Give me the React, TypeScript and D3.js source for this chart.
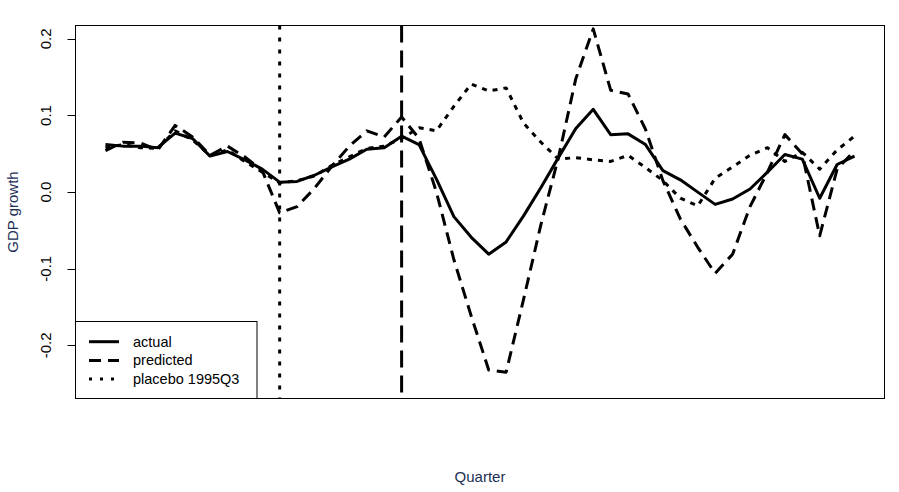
import React from "react";
import * as d3 from "d3";

const quarters: number[] = d3.range(0, 44);
const actual: number[] = [0.062, 0.060, 0.060, 0.058, 0.077, 0.070, 0.047, 0.053, 0.042, 0.030, 0.013, 0.014, 0.022, 0.033, 0.043, 0.056, 0.058, 0.073, 0.062, 0.017, -0.032, -0.059, -0.081, -0.065, -0.031, 0.006, 0.045, 0.083, 0.108, 0.075, 0.076, 0.062, 0.028, 0.016, 0.000, -0.016, -0.009, 0.004, 0.026, 0.049, 0.043, -0.008, 0.036, 0.047];
const predicted: number[] = [0.054, 0.065, 0.064, 0.055, 0.087, 0.072, 0.048, 0.060, 0.046, 0.028, -0.027, -0.019, 0.005, 0.034, 0.060, 0.080, 0.072, 0.098, 0.070, 0.000, -0.088, -0.162, -0.232, -0.235, -0.140, -0.042, 0.045, 0.148, 0.213, 0.133, 0.128, 0.082, 0.015, -0.035, -0.072, -0.106, -0.081, -0.019, 0.026, 0.075, 0.050, -0.057, 0.030, 0.054];
const placebo: number[] = [0.058, 0.062, 0.058, 0.057, 0.080, 0.068, 0.048, 0.055, 0.040, 0.026, 0.012, 0.015, 0.021, 0.035, 0.046, 0.057, 0.060, 0.070, 0.084, 0.080, 0.112, 0.141, 0.132, 0.136, 0.090, 0.065, 0.043, 0.045, 0.042, 0.040, 0.048, 0.032, 0.015, -0.008, -0.018, 0.018, 0.033, 0.048, 0.058, 0.040, 0.052, 0.030, 0.055, 0.073];
const yTicks: number[] = [-0.2, -0.1, 0.0, 0.1, 0.2];
const placeboQuarter = 10;
const treatQuarter = 17;
const legendLabels: string[] = ["actual", "predicted", "placebo 1995Q3"];

const W = 899, H = 492;
const left = 75.5, right = 884.5, top = 25.5, bottom = 398.5;
const FONT = "'Liberation Sans', Arial, sans-serif";

export default function App() {
  const x = d3.scaleLinear().domain([-1.72, 44.72]).range([left, right]);
  const y = d3.scaleLinear().domain([-0.2693, 0.2174]).range([bottom, top]);
  const line = d3.line<number>().x((_, i) => x(quarters[i])).y((d) => y(d));

  const curveDash = [undefined, "12 7", "5 6"] as (string | undefined)[];
  const legendDash = [undefined, "12 7", "3 8"] as (string | undefined)[];
  const series = [actual, predicted, placebo];

  const legX = left, legY = 321.5, legW = 181.5, legH = bottom - 321.5;

  return (
    <svg width={W} height={H} style={{ position: "absolute", left: 0, top: 0, background: "#fff" }} fontFamily={FONT}>
      <rect x={0} y={0} width={W} height={H} fill="#fff" />
      <defs>
        <clipPath id="plotclip">
          <rect x={left} y={top} width={right - left} height={bottom - top} />
        </clipPath>
      </defs>
      <g clipPath="url(#plotclip)">
        {series.map((s, i) => (
          <path key={i} d={line(s) || ""} fill="none" stroke="#000" strokeWidth={3}
            strokeDasharray={curveDash[i]} strokeLinejoin="round" strokeLinecap="butt" />
        ))}
        <line x1={x(placeboQuarter)} x2={x(placeboQuarter)} y1={top} y2={bottom} stroke="#000" strokeWidth={3} strokeDasharray="4 8" />
        <line x1={x(treatQuarter)} x2={x(treatQuarter)} y1={top} y2={bottom} stroke="#000" strokeWidth={3} strokeDasharray="17 8" />
      </g>
      <rect x={left} y={top} width={right - left} height={bottom - top} fill="none" stroke="#000" strokeWidth={1} />
      {yTicks.map((t) => (
        <g key={t}>
          <line x1={left - 8} x2={left} y1={Math.round(y(t)) + 0.5} y2={Math.round(y(t)) + 0.5} stroke="#000" strokeWidth={1} />
          <text transform={`translate(51,${y(t)}) rotate(-90)`} textAnchor="middle" fontSize={15} fill="#000">
            {t === 0 ? "0.0" : t.toFixed(1)}
          </text>
        </g>
      ))}
      <text transform={`translate(18,${(top + bottom) / 2}) rotate(-90)`} textAnchor="middle" fontSize={15} fill="#1b2f55">GDP growth</text>
      <text x={(left + right) / 2} y={482} textAnchor="middle" fontSize={15} fill="#1b2f55">Quarter</text>
      <rect x={legX} y={legY} width={legW} height={legH} fill="#fff" stroke="#000" strokeWidth={1} />
      {legendLabels.map((lab, i) => {
        const ly = 341.7 + i * 18.7;
        return (
          <g key={lab}>
            <line x1={89} x2={119} y1={ly} y2={ly} stroke="#000" strokeWidth={3} strokeDasharray={legendDash[i]} />
            <text x={133} y={ly + 5} fontSize={14.5} fill="#000">{lab}</text>
          </g>
        );
      })}
    </svg>
  );
}
